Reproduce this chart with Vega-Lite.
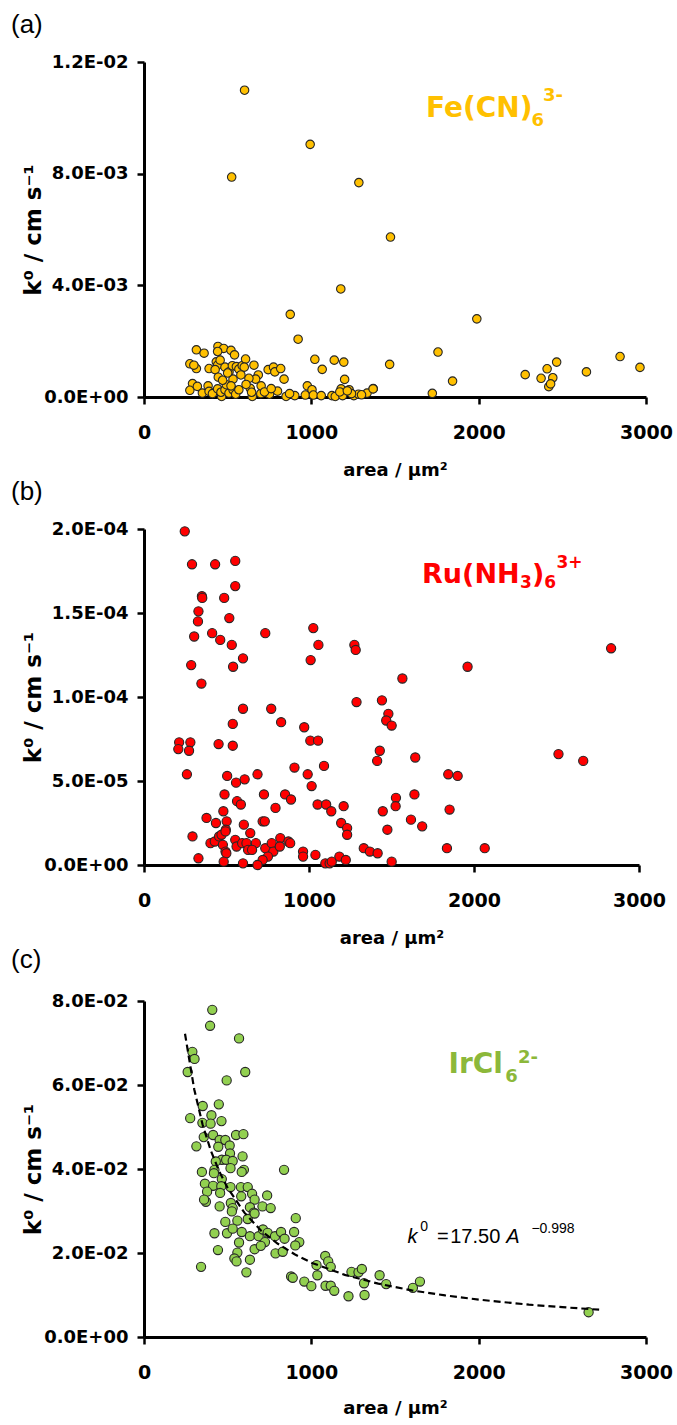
{
 "$schema": "https://vega.github.io/schema/vega-lite/v6.json",
 "padding": {"left": 11, "top": 12, "right": 5, "bottom": 5},
 "background": "white",
 "spacing": 0,
 "config": {
  "view": {"stroke": null},
  "axis": {"grid": false, "domainColor": "black", "domainWidth": 3, "tickColor": "black", "tickWidth": 2.5, "tickSize": 7, "labelColor": "black", "titleColor": "black", "labelFont": "DejaVu Sans", "labelFontWeight": "bold", "titleFont": "DejaVu Sans", "titleFontWeight": "bold", "labelFlush": false},
  "axisX": {"labelFontSize": 19, "labelPadding": 19, "titleFontSize": 18, "titlePadding": 19},
  "axisY": {"labelFontSize": 18, "labelPadding": 9, "titleFontSize": 23, "titlePadding": -2},
  "title": {"font": "Liberation Sans", "fontSize": 26, "fontWeight": "normal", "anchor": "start", "frame": "group", "dx": -133, "offset": 15, "color": "black"}
 },
 "datasets": {
  "fe": [
   {"a":601,"k":0.01099},{"a":993,"k":0.00905},{"a":524,"k":0.00788},{"a":1284,"k":0.00768},{"a":1473,"k":0.00573},{"a":1176,"k":0.00387},{"a":874,"k":0.00296},{"a":1989,"k":0.00280},{"a":921,"k":0.00207},{"a":1757,"k":0.00161},{"a":1468,"k":0.00117},{"a":1844,"k":0.00057},{"a":1723,"k":0.00013},{"a":2278,"k":0.00080},{"a":2373,"k":0.00067},{"a":2409,"k":0.00101},{"a":2443,"k":0.00069},{"a":2419,"k":0.00037},{"a":2430,"k":0.00047},{"a":2466,"k":0.00125},{"a":2644,"k":0.00090},{"a":2845,"k":0.00145},{"a":2964,"k":0.00106},{"a":1021,"k":0.00135},{"a":1065,"k":0.00099},{"a":1137,"k":0.00132},{"a":1194,"k":0.00125},{"a":1199,"k":0.00063},{"a":1370,"k":0.00030},
   {"a":313,"k":0.00169},{"a":359,"k":0.00157},{"a":442,"k":0.00181},{"a":476,"k":0.00174},{"a":520,"k":0.00167},{"a":440,"k":0.00163},{"a":541,"k":0.00151},{"a":274,"k":0.00119},{"a":313,"k":0.00102},{"a":298,"k":0.00114},{"a":389,"k":0.00102},{"a":432,"k":0.00126},{"a":440,"k":0.00114},{"a":425,"k":0.00098},{"a":484,"k":0.00107},{"a":508,"k":0.00090},{"a":528,"k":0.00112},{"a":552,"k":0.00109},{"a":567,"k":0.00100},{"a":587,"k":0.00112},{"a":607,"k":0.00136},{"a":599,"k":0.00107},{"a":657,"k":0.00114},{"a":683,"k":0.00079},{"a":667,"k":0.00064},{"a":627,"k":0.00067},{"a":579,"k":0.00079},{"a":532,"k":0.00064},{"a":500,"k":0.00086},{"a":444,"k":0.00071},{"a":742,"k":0.00098},{"a":774,"k":0.00107},{"a":782,"k":0.00090},{"a":817,"k":0.00102},{"a":837,"k":0.00064},
   {"a":290,"k":0.00048},{"a":274,"k":0.00024},{"a":319,"k":0.00038},{"a":349,"k":0.00014},{"a":383,"k":0.00040},{"a":389,"k":0.00020},{"a":409,"k":0.00012},{"a":440,"k":0.00029},{"a":464,"k":0.00002},{"a":460,"k":0.00017},{"a":484,"k":0.00026},{"a":508,"k":0.00014},{"a":492,"k":0.00044},{"a":532,"k":0.00026},{"a":548,"k":0.00010},{"a":567,"k":0.00026},{"a":635,"k":0.00031},{"a":647,"k":0.00002},{"a":643,"k":0.00017},{"a":698,"k":0.00012},{"a":750,"k":0.00010},{"a":798,"k":0.00021},{"a":849,"k":0.00002},{"a":901,"k":0.00005},{"a":964,"k":0.00007},{"a":976,"k":0.00040},{"a":1004,"k":0.00026},{"a":1012,"k":0.00007},{"a":1059,"k":0.00005},{"a":1123,"k":0.00005},{"a":1143,"k":0.00002},{"a":1178,"k":0.00029},{"a":1187,"k":0.00005},{"a":1226,"k":0.00026},{"a":1254,"k":0.00005},{"a":1282,"k":0.00010},{"a":1333,"k":0.00014},{"a":1369,"k":0.00029},
   {"a":455,"k":0.00132},{"a":470,"k":0.00060},{"a":520,"k":0.00040},{"a":610,"k":0.00045},{"a":700,"k":0.00040},{"a":720,"k":0.00018},{"a":760,"k":0.00030},{"a":870,"k":0.00012},{"a":1240,"k":0.00012},{"a":1300,"k":0.00008},{"a":1170,"k":0.00018},{"a":1215,"k":0.00022}
  ],
  "ru": [
   {"a":247,"k":1.986e-4},{"a":291,"k":1.79e-4},{"a":431,"k":1.79e-4},{"a":553,"k":1.81e-4},{"a":553,"k":1.66e-4},{"a":351,"k":1.60e-4},{"a":353,"k":1.59e-4},{"a":486,"k":1.59e-4},{"a":330,"k":1.51e-4},{"a":327,"k":1.45e-4},{"a":517,"k":1.47e-4},{"a":304,"k":1.36e-4},{"a":413,"k":1.38e-4},{"a":462,"k":1.34e-4},{"a":532,"k":1.31e-4},{"a":600,"k":1.23e-4},{"a":286,"k":1.19e-4},{"a":540,"k":1.18e-4},{"a":348,"k":1.08e-4},{"a":735,"k":1.38e-4},{"a":1026,"k":1.41e-4},{"a":1057,"k":1.31e-4},{"a":1010,"k":1.22e-4},{"a":1275,"k":1.31e-4},{"a":1283,"k":1.28e-4},{"a":1961,"k":1.18e-4},{"a":2831,"k":1.29e-4},{"a":1566,"k":1.11e-4},{"a":1288,"k":0.97e-4},{"a":1442,"k":0.98e-4},{"a":1481,"k":0.90e-4},{"a":1468,"k":0.86e-4},{"a":1501,"k":0.83e-4},{"a":600,"k":0.93e-4},{"a":771,"k":0.93e-4},{"a":831,"k":0.85e-4},{"a":971,"k":0.82e-4},{"a":538,"k":0.84e-4},{"a":1008,"k":0.74e-4},{"a":1055,"k":0.74e-4},{"a":213,"k":0.73e-4},{"a":208,"k":0.69e-4},{"a":281,"k":0.73e-4},{"a":273,"k":0.68e-4},{"a":452,"k":0.72e-4},{"a":538,"k":0.71e-4},{"a":1429,"k":0.68e-4},{"a":1413,"k":0.62e-4},{"a":1644,"k":0.64e-4},{"a":2512,"k":0.66e-4},{"a":2662,"k":0.62e-4},
   {"a":260,"k":0.54e-4},{"a":504,"k":0.53e-4},{"a":558,"k":0.49e-4},{"a":610,"k":0.51e-4},{"a":688,"k":0.54e-4},{"a":912,"k":0.58e-4},{"a":1091,"k":0.59e-4},{"a":992,"k":0.54e-4},{"a":1016,"k":0.47e-4},{"a":1844,"k":0.54e-4},{"a":1901,"k":0.53e-4},{"a":488,"k":0.42e-4},{"a":564,"k":0.38e-4},{"a":587,"k":0.36e-4},{"a":727,"k":0.42e-4},{"a":855,"k":0.42e-4},{"a":891,"k":0.39e-4},{"a":797,"k":0.34e-4},{"a":1052,"k":0.36e-4},{"a":1104,"k":0.36e-4},{"a":1135,"k":0.32e-4},{"a":1210,"k":0.35e-4},{"a":1447,"k":0.32e-4},{"a":1527,"k":0.40e-4},{"a":1525,"k":0.35e-4},{"a":1639,"k":0.42e-4},{"a":1852,"k":0.33e-4},
   {"a":379,"k":0.28e-4},{"a":436,"k":0.25e-4},{"a":481,"k":0.32e-4},{"a":501,"k":0.26e-4},{"a":605,"k":0.24e-4},{"a":719,"k":0.26e-4},{"a":732,"k":0.26e-4},{"a":644,"k":0.19e-4},{"a":496,"k":0.21e-4},{"a":1195,"k":0.25e-4},{"a":1231,"k":0.22e-4},{"a":1231,"k":0.18e-4},{"a":1618,"k":0.27e-4},{"a":1686,"k":0.23e-4},{"a":1475,"k":0.21e-4},{"a":294,"k":0.17e-4},{"a":403,"k":0.13e-4},{"a":429,"k":0.14e-4},{"a":455,"k":0.17e-4},{"a":470,"k":0.18e-4},{"a":494,"k":0.20e-4},{"a":553,"k":0.15e-4},{"a":561,"k":0.11e-4},{"a":595,"k":0.13e-4},{"a":621,"k":0.13e-4},{"a":631,"k":0.09e-4},{"a":678,"k":0.13e-4},{"a":735,"k":0.10e-4},{"a":774,"k":0.13e-4},{"a":826,"k":0.16e-4},{"a":875,"k":0.14e-4},{"a":886,"k":0.13e-4},{"a":784,"k":0.08e-4},{"a":823,"k":0.11e-4},{"a":751,"k":0.05e-4},{"a":719,"k":0.03e-4},{"a":655,"k":0.09e-4},{"a":478,"k":0.12e-4},{"a":494,"k":0.08e-4},{"a":499,"k":0.07e-4},{"a":330,"k":0.04e-4},{"a":483,"k":0.02e-4},{"a":600,"k":0.01e-4},{"a":688,"k":0.0},{"a":964,"k":0.08e-4},{"a":964,"k":0.05e-4},{"a":1039,"k":0.06e-4},{"a":1099,"k":0.01e-4},{"a":1125,"k":0.01e-4},{"a":1138,"k":0.02e-4},{"a":1184,"k":0.05e-4},{"a":1223,"k":0.03e-4},{"a":1332,"k":0.10e-4},{"a":1369,"k":0.08e-4},{"a":1416,"k":0.07e-4},{"a":1501,"k":0.02e-4},{"a":1836,"k":0.10e-4},{"a":2065,"k":0.10e-4}
  ],
  "ir": [
   {"a":408,"k":0.0779},{"a":395,"k":0.0741},{"a":568,"k":0.0711},{"a":289,"k":0.0679},{"a":302,"k":0.0662},{"a":261,"k":0.0631},{"a":605,"k":0.0631},{"a":494,"k":0.0611},{"a":351,"k":0.0550},{"a":447,"k":0.0554},{"a":276,"k":0.0521},{"a":403,"k":0.0528},{"a":463,"k":0.0514},{"a":349,"k":0.0510},{"a":398,"k":0.0508},{"a":550,"k":0.0481},{"a":594,"k":0.0483},{"a":313,"k":0.0454},{"a":357,"k":0.0476},{"a":413,"k":0.0481},{"a":452,"k":0.0469},{"a":486,"k":0.0469},{"a":512,"k":0.0456},{"a":444,"k":0.0453},{"a":514,"k":0.0437},{"a":589,"k":0.0430},{"a":465,"k":0.0422},{"a":429,"k":0.0418},{"a":491,"k":0.0422},{"a":530,"k":0.0419},{"a":421,"k":0.0398},{"a":517,"k":0.0402},{"a":597,"k":0.0398},{"a":584,"k":0.0393},{"a":346,"k":0.0393},{"a":418,"k":0.0390},{"a":837,"k":0.0398},{"a":465,"k":0.0376},{"a":364,"k":0.0365},{"a":413,"k":0.0360},{"a":462,"k":0.0359},{"a":377,"k":0.0346},{"a":455,"k":0.0343},{"a":517,"k":0.0357},{"a":579,"k":0.0357},{"a":620,"k":0.0357},{"a":646,"k":0.0341},{"a":581,"k":0.0335},{"a":661,"k":0.0327},{"a":736,"k":0.0337},{"a":370,"k":0.0322},{"a":359,"k":0.0327},{"a":452,"k":0.0311},{"a":519,"k":0.0319},{"a":530,"k":0.0307},{"a":525,"k":0.0299},{"a":633,"k":0.0309},{"a":656,"k":0.0296},{"a":708,"k":0.0311},{"a":757,"k":0.0307},{"a":486,"k":0.0274},{"a":558,"k":0.0277},{"a":620,"k":0.0281},{"a":661,"k":0.0294},{"a":907,"k":0.0283},
   {"a":421,"k":0.0247},{"a":496,"k":0.0247},{"a":530,"k":0.0258},{"a":584,"k":0.0250},{"a":633,"k":0.0240},{"a":685,"k":0.0240},{"a":711,"k":0.0256},{"a":739,"k":0.0248},{"a":783,"k":0.0240},{"a":819,"k":0.0250},{"a":840,"k":0.0234},{"a":897,"k":0.0250},{"a":928,"k":0.0226},{"a":904,"k":0.0218},{"a":723,"k":0.0226},{"a":568,"k":0.0225},{"a":661,"k":0.0209},{"a":698,"k":0.0217},{"a":786,"k":0.0199},{"a":829,"k":0.0203},{"a":558,"k":0.0201},{"a":442,"k":0.0207},{"a":540,"k":0.0187},{"a":553,"k":0.0180},{"a":633,"k":0.0184},{"a":612,"k":0.0154},{"a":341,"k":0.0167},{"a":879,"k":0.0144},{"a":889,"k":0.0141},{"a":1083,"k":0.0193},{"a":1101,"k":0.0180},{"a":1031,"k":0.0171},{"a":1116,"k":0.0167},{"a":1036,"k":0.0147},{"a":958,"k":0.0132},{"a":1000,"k":0.0121},{"a":1085,"k":0.0122},{"a":1116,"k":0.0122},{"a":1137,"k":0.0110},{"a":1222,"k":0.0097},{"a":1240,"k":0.0155},{"a":1282,"k":0.0154},{"a":1302,"k":0.0162},{"a":1315,"k":0.0128},{"a":1318,"k":0.0100},{"a":1408,"k":0.0147},{"a":1447,"k":0.0126},{"a":1607,"k":0.0117},{"a":1649,"k":0.0132},{"a":2657,"k":0.0059}
  ],
  "fit": [
   {"a":245,"k":0.0722},{"a":300,"k":0.0590},{"a":350,"k":0.0506},{"a":400,"k":0.0443},{"a":450,"k":0.0394},{"a":500,"k":0.0355},{"a":600,"k":0.0296},{"a":700,"k":0.0253},{"a":800,"k":0.0222},{"a":900,"k":0.0197},{"a":1000,"k":0.0177},{"a":1200,"k":0.0148},{"a":1400,"k":0.0127},{"a":1600,"k":0.0111},{"a":1800,"k":0.0099},{"a":2000,"k":0.0089},{"a":2300,"k":0.0077},{"a":2500,"k":0.0071},{"a":2720,"k":0.0065}
  ]
 },
 "vconcat": [
  {
   "width": 502, "height": 335,
   "title": "(a)",
   "encoding": {
    "x": {"field": "a", "type": "quantitative", "scale": {"domain": [0, 3000], "nice": false}, "axis": {"values": [0, 1000, 2000, 3000], "format": "d", "title": "area / μm²"}},
    "y": {"field": "k", "type": "quantitative", "scale": {"domain": [0, 0.012], "nice": false}, "axis": {"values": [0, 0.004, 0.008, 0.012], "title": "k⁰ / cm s⁻¹", "labelExpr": "split(format(datum.value,'.1e'),'e')[0] + 'E' + (toNumber(split(format(datum.value,'.1e'),'e')[1]) < 0 ? '-' : '+') + (abs(toNumber(split(format(datum.value,'.1e'),'e')[1])) < 10 ? '0' : '') + abs(toNumber(split(format(datum.value,'.1e'),'e')[1]))"}}
   },
   "layer": [
    {"data": {"name": "fe"}, "mark": {"type": "circle", "size": 72, "fill": "#FFC000", "opacity": 1, "stroke": "#262626", "strokeWidth": 1.1}},
    {"data": {"values": [{"a": 1685, "k": 0.01031, "t": "Fe(CN)"}]}, "mark": {"type": "text", "align": "left", "baseline": "middle", "font": "DejaVu Sans", "fontWeight": "bold", "fontSize": 28, "color": "#FFC000"}, "encoding": {"text": {"field": "t"}}},
    {"data": {"values": [{"a": 2316, "k": 0.00989, "t": "6"}, {"a": 2384, "k": 0.01078, "t": "3-"}]}, "mark": {"type": "text", "align": "left", "baseline": "middle", "font": "DejaVu Sans", "fontWeight": "bold", "fontSize": 18, "color": "#FFC000"}, "encoding": {"text": {"field": "t"}}}
   ]
  },
  {
   "width": 495, "height": 336,
   "title": "(b)",
   "encoding": {
    "x": {"field": "a", "type": "quantitative", "scale": {"domain": [0, 3000], "nice": false}, "axis": {"values": [0, 1000, 2000, 3000], "format": "d", "title": "area / μm²"}},
    "y": {"field": "k", "type": "quantitative", "scale": {"domain": [0, 0.0002], "nice": false}, "axis": {"values": [0, 0.00005, 0.0001, 0.00015, 0.0002], "title": "k⁰ / cm s⁻¹", "labelExpr": "split(format(datum.value,'.1e'),'e')[0] + 'E' + (toNumber(split(format(datum.value,'.1e'),'e')[1]) < 0 ? '-' : '+') + (abs(toNumber(split(format(datum.value,'.1e'),'e')[1])) < 10 ? '0' : '') + abs(toNumber(split(format(datum.value,'.1e'),'e')[1]))"}}
   },
   "layer": [
    {"data": {"name": "ru"}, "mark": {"type": "circle", "size": 85, "fill": "#FF0000", "opacity": 1, "stroke": "#262626", "strokeWidth": 1.1}},
    {"data": {"values": [{"a": 1685, "k": 1.726e-4, "t": "Ru(NH"}, {"a": 2351, "k": 1.726e-4, "t": ")"}]}, "mark": {"type": "text", "align": "left", "baseline": "middle", "font": "DejaVu Sans", "fontWeight": "bold", "fontSize": 27, "color": "#FF0000"}, "encoding": {"text": {"field": "t"}}},
    {"data": {"values": [{"a": 2279, "k": 1.679e-4, "t": "3"}, {"a": 2426, "k": 1.679e-4, "t": "6"}, {"a": 2500, "k": 1.798e-4, "t": "3+"}]}, "mark": {"type": "text", "align": "left", "baseline": "middle", "font": "DejaVu Sans", "fontWeight": "bold", "fontSize": 17, "color": "#FF0000"}, "encoding": {"text": {"field": "t"}}}
   ]
  },
  {
   "width": 502, "height": 336,
   "title": {"text": "(c)", "offset": 19},
   "encoding": {
    "x": {"field": "a", "type": "quantitative", "scale": {"domain": [0, 3000], "nice": false}, "axis": {"values": [0, 1000, 2000, 3000], "format": "d", "title": "area / μm²", "titlePadding": 17}},
    "y": {"field": "k", "type": "quantitative", "scale": {"domain": [0, 0.08], "nice": false}, "axis": {"values": [0, 0.02, 0.04, 0.06, 0.08], "title": "k⁰ / cm s⁻¹", "labelExpr": "split(format(datum.value,'.1e'),'e')[0] + 'E' + (toNumber(split(format(datum.value,'.1e'),'e')[1]) < 0 ? '-' : '+') + (abs(toNumber(split(format(datum.value,'.1e'),'e')[1])) < 10 ? '0' : '') + abs(toNumber(split(format(datum.value,'.1e'),'e')[1]))"}}
   },
   "layer": [
    {"data": {"name": "ir"}, "mark": {"type": "circle", "size": 85, "fill": "#92D050", "opacity": 1, "stroke": "#262626", "strokeWidth": 1.1}},
    {"data": {"name": "fit"}, "mark": {"type": "line", "color": "black", "strokeDash": [7, 4], "strokeWidth": 2.2}},
    {"data": {"values": [{"a": 1820, "k": 0.0648, "t": "IrCl"}]}, "mark": {"type": "text", "align": "left", "baseline": "middle", "font": "DejaVu Sans", "fontWeight": "bold", "fontSize": 28, "color": "#8CB83A"}, "encoding": {"text": {"field": "t"}}},
    {"data": {"values": [{"a": 2159, "k": 0.0619, "t": "6"}, {"a": 2235, "k": 0.0664, "t": "2-"}]}, "mark": {"type": "text", "align": "left", "baseline": "middle", "font": "DejaVu Sans", "fontWeight": "bold", "fontSize": 18, "color": "#8CB83A"}, "encoding": {"text": {"field": "t"}}},
    {"data": {"values": [{"a": 1575, "k": 0.0239, "t": "k"}, {"a": 2165, "k": 0.0239, "t": "A"}]}, "mark": {"type": "text", "align": "left", "baseline": "middle", "font": "Liberation Sans", "fontStyle": "italic", "fontSize": 20, "color": "black"}, "encoding": {"text": {"field": "t"}}},
    {"data": {"values": [{"a": 1751, "k": 0.0239, "t": "="}, {"a": 1830, "k": 0.0239, "t": "17.50"}]}, "mark": {"type": "text", "align": "left", "baseline": "middle", "font": "Liberation Sans", "fontSize": 20, "color": "black"}, "encoding": {"text": {"field": "t"}}},
    {"data": {"values": [{"a": 1651, "k": 0.0263, "t": "0"}, {"a": 2315, "k": 0.0257, "t": "−0.998"}]}, "mark": {"type": "text", "align": "left", "baseline": "middle", "font": "Liberation Sans", "fontSize": 14, "color": "black"}, "encoding": {"text": {"field": "t"}}}
   ]
  }
 ]
}
